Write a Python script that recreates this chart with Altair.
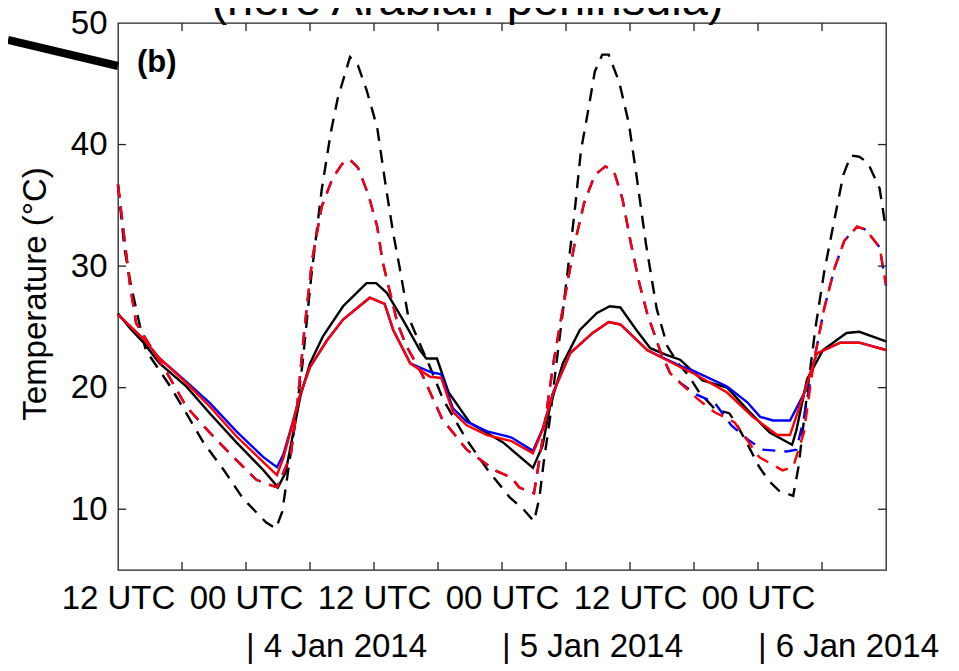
import altair as alt
import pandas as pd

FONT = "Liberation Sans"

# ---------------- data (hours since 3 Jan 2014 12 UTC, temperature in deg C) -------------
black_solid_h = [0, 1.2, 2.4, 3.9, 6.4, 8.6, 11.1, 13.6, 15.0, 15.7, 16.3, 17.1, 18.0, 19.2, 21.1,
                 23.3, 24.2, 25.2, 26.7, 28.3, 28.9, 29.9, 31.0, 33.0, 36.1, 38.9, 39.8, 40.5, 41.7,
                 43.3, 44.9, 46.1, 47.1, 48.6, 49.9, 51.4, 52.7, 54.8, 57.1, 59.0, 61.1, 63.2, 63.6,
                 64.6, 66.1, 68.3, 69.5, 72]
black_solid_t = [26.1, 24.8, 23.7, 22.0, 20.1, 17.9, 15.5, 13.25, 11.8, 13.0, 15.7, 19.3, 22.0, 24.2,
                 26.7, 28.6, 28.6, 27.8, 25.6, 23.1, 22.4, 22.4, 19.6, 17.1, 15.5, 13.4, 15.2, 18.45,
                 22.0, 24.75, 26.15, 26.7, 26.6, 24.75, 23.25, 22.7, 22.3, 20.6, 20.0, 18.2, 16.3,
                 15.3, 16.5, 20.7, 23.1, 24.5, 24.6, 23.8]

red_solid_h = [0, 2.4, 3.9, 6.4, 8.6, 11.1, 13.6, 14.9, 15.5, 16.3, 17.1, 18.0, 19.6, 21.1, 23.6,
               25.0, 25.8, 27.4, 29.25, 30.3, 31.4, 32.7, 34.6, 36.9, 38.9, 39.8, 40.8, 42.4, 44.5,
               46.0, 47.1, 48.3, 49.6, 52.7, 53.9, 57.1, 59.5, 61.8, 63.0, 64.3, 65.5, 67.7, 69.5, 72]
red_solid_t = [26.0, 24.0, 22.4, 20.4, 18.45, 16.0, 13.9, 12.8, 14.2, 16.8, 19.5, 21.7, 23.9, 25.6,
               27.4, 26.9, 24.75, 22.0, 20.9, 20.8, 18.0, 16.9, 16.1, 15.6, 14.6, 16.5, 19.6, 22.85,
               24.5, 25.4, 25.2, 24.2, 23.1, 21.7, 21.2, 19.6, 17.6, 16.1, 16.1, 19.5, 22.8, 23.7,
               23.7, 23.1]

blue_solid_h = [0, 2.4, 3.9, 6.4, 8.6, 11.1, 13.6, 14.9, 15.5, 16.3, 17.1, 18.0, 19.6, 21.1, 23.6,
                25.0, 25.8, 27.4, 29.25, 30.3, 31.4, 32.7, 34.6, 36.9, 38.9, 39.8, 40.8, 42.4, 44.5,
                46.0, 47.1, 48.3, 49.6, 52.7, 53.9, 57.1, 59.0, 60.2, 61.4, 63.0, 64.3, 65.5, 67.7,
                69.5, 72]
blue_solid_t = [26.0, 24.0, 22.4, 20.5, 18.75, 16.4, 14.3, 13.45, 14.5, 16.9, 19.5, 21.7, 23.9, 25.6,
                27.4, 26.9, 24.75, 22.0, 21.3, 21.1, 18.3, 17.2, 16.4, 15.9, 14.8, 16.6, 19.6, 22.85,
                24.5, 25.4, 25.2, 24.2, 23.1, 21.8, 21.4, 20.1, 18.8, 17.6, 17.3, 17.3, 19.5, 22.8,
                23.7, 23.7, 23.1]

black_dash_h = [0, 0.6, 1.2, 2.0, 2.6, 4.9, 6.4, 8.0, 9.9, 11.7, 13.9, 14.8, 15.4, 16.5, 17.3, 18.1,
                19.1, 19.95, 20.6, 21.75, 22.5, 23.3, 24.3, 25.1, 25.8, 26.4, 27.2, 28.2, 29.2, 30.5,
                31.5, 32.7, 34.6, 36.7, 38.0, 39.0, 39.5, 39.9, 40.5, 41.1, 41.6, 42.1, 42.8, 43.4,
                44.1, 44.7, 45.4, 46.0, 47.0, 47.9, 48.6, 49.5, 50.5, 51.5, 52.5, 53.5, 54.5, 56.0,
                57.3, 58.0, 59.1, 60.1, 61.0, 62.0, 63.3, 63.8, 64.6, 65.4, 66.2, 67.2, 68.0, 68.7,
                69.5, 70.3, 71.4, 72]
black_dash_t = [36.7, 31.5, 28.5, 25.3, 23.1, 20.1, 17.9, 15.5, 13.25, 10.9, 8.9, 8.4, 9.8, 16.5,
                22.0, 29.0, 36.3, 41.0, 43.8, 47.2, 46.5, 44.5, 41.4, 36.6, 32.7, 29.9, 25.9, 23.8,
                21.8, 19.0, 17.5, 15.7, 13.3, 11.0, 10.0, 9.0, 10.9, 13.8, 17.5, 22.0, 25.5, 29.2,
                34.4, 39.5, 42.9, 46.0, 47.4, 47.4, 45.1, 41.7, 37.5, 31.8, 26.5, 23.4, 22.0, 21.0,
                19.6, 18.2, 17.9, 17.0, 15.2, 13.5, 12.35, 11.5, 11.1, 13.5, 19.5, 25.0, 29.5, 34.0,
                37.5, 39.1, 39.0, 38.5, 36.4, 33.0]

red_dash_h = [0, 0.8, 1.1, 1.7, 4.6, 6.4, 8.6, 10.8, 13.0, 14.9, 15.5, 16.2, 16.8, 17.5, 18.2, 19.1,
              20.1, 21.0, 21.7, 22.5, 23.5, 24.3, 24.8, 25.4, 26.2, 27.0, 28.5, 30.4, 32.7, 35.3,
              36.9, 37.6, 39.0, 39.9, 40.8, 41.8, 42.8, 43.7, 44.7, 45.7, 46.5, 47.3, 48.1, 48.9,
              49.6, 50.8, 51.75, 52.7, 54.3, 55.9, 57.8, 60.1, 62.3, 63.3, 64.3, 65.2, 66.2, 67.2,
              68.1, 69.3, 70.1, 71.4, 72]
red_dash_t = [36.7, 30.8, 28.6, 25.3, 21.2, 18.45, 16.3, 14.3, 12.4, 11.8, 13.0, 14.5, 18.5, 25.0,
              30.5, 34.9, 37.2, 38.4, 38.8, 38.1, 35.8, 33.25, 30.4, 28.2, 25.3, 23.5, 21.1, 17.4,
              14.9, 13.2, 12.6, 11.8, 11.3, 16.3, 21.95, 27.0, 31.8, 35.2, 37.5, 38.2, 37.8, 35.5,
              31.8, 28.5, 26.15, 23.1, 21.2, 20.4, 19.1, 18.0, 17.15, 14.3, 13.2, 13.5, 16.3, 21.95,
              26.5, 29.9, 32.1, 33.25, 33.0, 31.55, 28.5]

blue_dash_h = [0, 0.8, 1.1, 1.7, 4.6, 6.4, 8.6, 10.8, 13.0, 14.9, 15.5, 16.2, 16.8, 17.5, 18.2, 19.1,
               20.1, 21.0, 21.7, 22.5, 23.5, 24.3, 24.8, 25.4, 26.2, 27.0, 28.5, 30.4, 32.7, 35.3,
               36.9, 37.6, 39.0, 39.9, 40.8, 41.8, 42.8, 43.7, 44.7, 45.7, 46.5, 47.3, 48.1, 48.9,
               49.6, 50.8, 51.75, 52.7, 54.3, 55.9, 57.5, 59.1, 60.4, 62.7, 63.6, 64.3, 65.2, 66.2,
               67.2, 68.1, 69.3, 70.1, 71.4, 72]
blue_dash_t = [36.7, 30.8, 28.6, 25.3, 21.2, 18.45, 16.3, 14.3, 12.4, 11.8, 13.0, 14.5, 18.5, 25.0,
               30.5, 34.9, 37.2, 38.4, 38.8, 38.1, 35.8, 33.25, 30.4, 28.2, 25.3, 23.5, 21.1, 17.4,
               14.9, 13.2, 12.6, 11.8, 11.3, 16.3, 21.95, 27.0, 31.8, 35.2, 37.5, 38.2, 37.8, 35.5,
               31.8, 28.5, 26.15, 23.1, 21.2, 20.4, 19.4, 18.8, 16.9, 15.7, 14.9, 14.75, 14.9, 17.5,
               21.95, 26.5, 29.9, 32.1, 33.25, 33.0, 31.55, 28.4]

x_label_values = [0, 12, 24, 36, 48, 60]
x_tick_values = [6, 12, 18, 24, 30, 36, 42, 48, 54, 60, 66]
y_tick_values = [10, 20, 30, 40]
y_label_values = [10, 20, 30, 40, 50]
date_positions = [12, 36, 60]
date_labels = ["| 4 Jan 2014", "| 5 Jan 2014", "| 6 Jan 2014"]
panel_label = "(b)"
top_text = "(here Arabian peninsula)"
y_title = "Temperature (°C)"

# ---------------- chart ----------------
W, H = 768, 547

xscale = alt.Scale(domain=[0, 72], nice=False, zero=False)
yscale = alt.Scale(domain=[5, 50], nice=False, zero=False)

xaxis = alt.Axis(values=x_label_values, ticks=False, domain=False, grid=False, title=None,
                 labelExpr="datum.value % 24 == 0 ? '12 UTC' : '00 UTC'",
                 labelFontSize=33, labelFont=FONT, labelColor="#000", labelPadding=12,
                 labelFlush=False, labelOverlap=False, labelBound=False)
yaxis = alt.Axis(values=y_label_values, ticks=False, domain=False, grid=False, title=None,
                 labelFontSize=33, labelFont=FONT, labelColor="#000", labelPadding=11,
                 labelOverlap=False, labelBound=False)


def X(field="h:Q"):
    return alt.X(field, scale=xscale, axis=xaxis)


def Y(field="T:Q"):
    return alt.Y(field, scale=yscale, axis=yaxis)


series = [
    ("dashed black", black_dash_h, black_dash_t, "#000000", True),
    ("solid black", black_solid_h, black_solid_t, "#000000", False),
    ("dashed blue", blue_dash_h, blue_dash_t, "#0000ff", True),
    ("solid blue", blue_solid_h, blue_solid_t, "#0000ff", False),
    ("dashed red", red_dash_h, red_dash_t, "#ff0000", True),
    ("solid red", red_solid_h, red_solid_t, "#ff0000", False),
]

layers = []
for name, hs, ts, col, dashed in series:
    df = pd.DataFrame({"h": hs, "T": ts, "o": list(range(len(hs)))})
    kw = dict(color=col, strokeWidth=2.4)
    if dashed:
        kw["strokeDash"] = [13, 9]
    layers.append(alt.Chart(df).mark_line(**kw).encode(x=X(), y=Y(), order=alt.Order("o:Q")))

# inward ticks
xt = pd.DataFrame({"h": x_tick_values})
yt = pd.DataFrame({"T": y_tick_values})
tick_style = dict(color="#222", strokeWidth=1.3)
layers.append(alt.Chart(xt).mark_rule(**tick_style).encode(
    x=X(), y=alt.value(H), y2=alt.value(H - 8)))
layers.append(alt.Chart(xt).mark_rule(**tick_style).encode(
    x=X(), y=alt.value(0), y2=alt.value(8)))
layers.append(alt.Chart(yt).mark_rule(**tick_style).encode(
    y=Y(), x=alt.value(0), x2=alt.value(8)))
layers.append(alt.Chart(yt).mark_rule(**tick_style).encode(
    y=Y(), x=alt.value(W), x2=alt.value(W - 8)))

# date labels
dd = pd.DataFrame({"h": date_positions, "lab": date_labels})
layers.append(alt.Chart(dd).mark_text(align="left", baseline="alphabetic", fontSize=33,
                                       font=FONT, color="#000").encode(
    x=X(), y=alt.value(634), text="lab:N"))

# panel label
layers.append(alt.Chart(pd.DataFrame({"t": [panel_label]})).mark_text(
    align="left", baseline="middle", fontSize=31, fontWeight="bold", font=FONT, color="#000"
).encode(x=alt.value(19), y=alt.value(40), text="t:N"))

# y axis title
layers.append(alt.Chart(pd.DataFrame({"t": [y_title]})).mark_text(
    align="center", baseline="alphabetic", angle=270, fontSize=33, font=FONT, color="#000"
).encode(x=alt.value(-72), y=alt.value(271), text="t:N"))

# cut-off heading text above the panel
layers.append(alt.Chart(pd.DataFrame({"t": [top_text]})).mark_text(
    align="center", baseline="alphabetic", fontSize=47, font=FONT, color="#000"
).encode(x=alt.value(349.5), y=alt.value(-8), text="t:N"))

# thick pointer line coming from the left
layers.append(alt.Chart(pd.DataFrame({"t": [0]})).mark_rule(
    color="#000", strokeWidth=8, strokeCap="butt"
).encode(x=alt.value(-110), x2=alt.value(0), y=alt.value(16.8), y2=alt.value(43)))

chart = alt.layer(*layers).properties(
    width=W, height=H,
    autosize=alt.AutoSizeParams(type="none"),
    padding={"left": 110, "top": 15, "right": 65, "bottom": 98},
    background="white",
).configure_view(stroke="#222", strokeWidth=1.3)

chart.save("out.html", embed_options={"renderer": "svg", "actions": False})
